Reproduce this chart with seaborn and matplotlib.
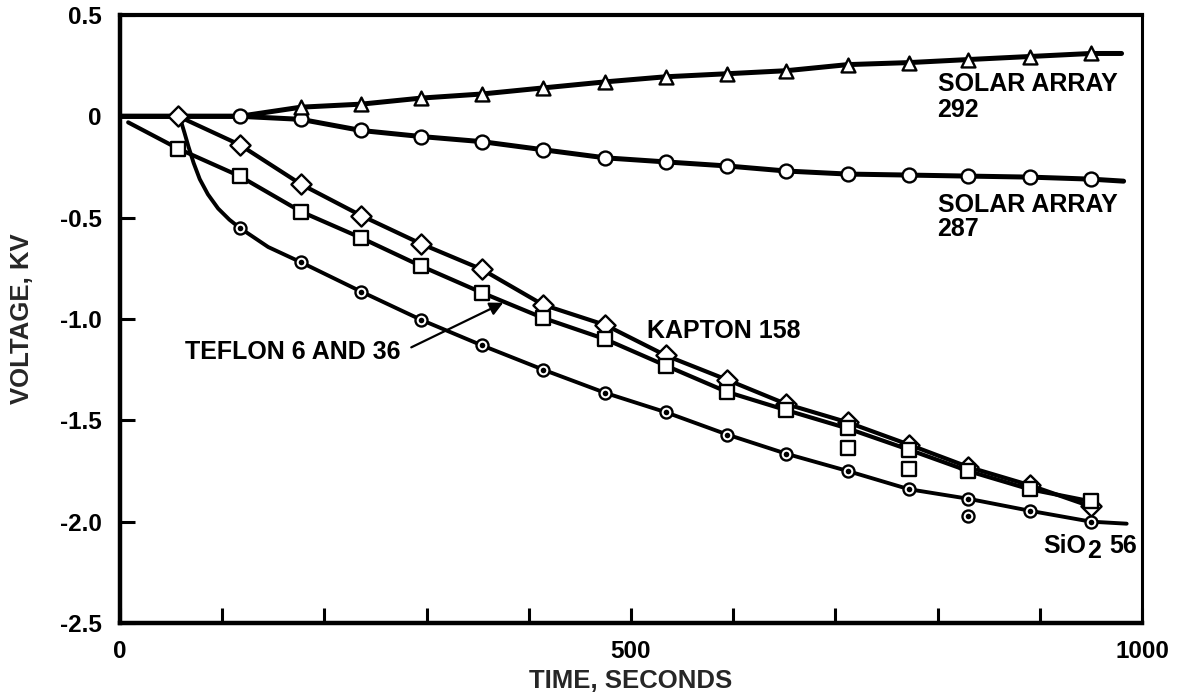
import matplotlib
matplotlib.use("Agg")
import matplotlib.pyplot as plt
import seaborn as sns

# Sample times (s) shared by the surface-charging series
time_s = [57, 117, 177, 236, 295, 354, 414, 475, 534, 594, 652, 712, 772, 830, 890, 950]

# KAPTON 158 (diamonds)
kapton_v = [0.0, -0.14, -0.335, -0.49, -0.63, -0.755, -0.93, -1.03, -1.18, -1.30,
            -1.42, -1.51, -1.62, -1.73, -1.82, -1.925]

# TEFLON 6 AND 36 (squares) plus the two readings that sit off the curve
teflon_v = [-0.16, -0.295, -0.47, -0.60, -0.74, -0.87, -0.995, -1.10, -1.23, -1.36,
            -1.45, -1.54, -1.645, -1.75, -1.84, -1.90]
teflon_extra_t = [712, 772]
teflon_extra_v = [-1.635, -1.74]
teflon_start_t = [8]
teflon_start_v = [-0.03]

# SiO2 56 (dotted circles)
sio2_t = time_s[1:]
sio2_v = [-0.55, -0.72, -0.865, -1.005, -1.13, -1.25, -1.365, -1.46, -1.57, -1.665,
          -1.75, -1.84, -1.887, -1.946, -2.0]
sio2_extra_t = [830]
sio2_extra_v = [-1.97]
# hand-drawn onset of the SiO2 curve, leaving the zero line after the first sample
sio2_onset_t = [0, 57, 60, 63, 67, 72, 78, 86, 96, 107]
sio2_onset_v = [0.0, 0.0, -0.03, -0.08, -0.15, -0.23, -0.31, -0.385, -0.455, -0.51]
sio2_bend_t = [145]
sio2_bend_v = [-0.645]
sio2_end_t = [985]
sio2_end_v = [-2.01]

# SOLAR ARRAY 292 (triangles)
solar292_t = time_s[2:]
solar292_v = [0.045, 0.06, 0.09, 0.11, 0.14, 0.17, 0.195, 0.21, 0.225, 0.255,
              0.265, 0.28, 0.295, 0.31]
solar292_start_t = [0, 117]
solar292_start_v = [0.0, 0.0]
solar292_end_t = [980]
solar292_end_v = [0.31]

# SOLAR ARRAY 287 (open circles)
solar287_t = time_s[1:]
solar287_v = [0.0, -0.015, -0.07, -0.10, -0.125, -0.165, -0.205, -0.225, -0.245,
              -0.27, -0.285, -0.29, -0.295, -0.30, -0.31]
solar287_start_t = [0]
solar287_start_v = [0.0]
solar287_end_t = [982]
solar287_end_v = [-0.32]

x_ticks = list(range(0, 1001, 100))
x_tick_labels = ["0", "", "", "", "", "500", "", "", "", "", "1000"]
y_ticks = [0.5, 0.0, -0.5, -1.0, -1.5, -2.0, -2.5]
y_tick_labels = ["0.5", "0", "-0.5", "-1.0", "-1.5", "-2.0", "-2.5"]

sns.set_theme(style="ticks")
plt.rcParams["font.family"] = ["Liberation Sans", "DejaVu Sans"]
plt.rcParams["font.weight"] = "bold"

fig = plt.figure(figsize=(11.79, 6.96), dpi=100)
ax = fig.add_axes([0.1018, 0.1049, 0.8668, 0.8736])

line_kw = dict(color="black", sort=False, estimator=None, legend=False)

# drawn curves through the readings
sns.lineplot(x=[0] + time_s, y=[0.0] + kapton_v, lw=3.0, ax=ax, zorder=2, **line_kw)
sns.lineplot(x=teflon_start_t + time_s, y=teflon_start_v + teflon_v, lw=3.0, ax=ax,
             zorder=2, **line_kw)
sio2_curve_t = sio2_onset_t + sio2_t[:1] + sio2_bend_t + sio2_t[1:] + sio2_end_t
sio2_curve_v = sio2_onset_v + sio2_v[:1] + sio2_bend_v + sio2_v[1:] + sio2_end_v
sns.lineplot(x=sio2_curve_t, y=sio2_curve_v, lw=2.8, ax=ax, zorder=2, **line_kw)
sns.lineplot(x=solar292_start_t + solar292_t + solar292_end_t,
             y=solar292_start_v + solar292_v + solar292_end_v, lw=3.6, ax=ax, zorder=2,
             **line_kw)
sns.lineplot(x=solar287_start_t + solar287_t + solar287_end_t,
             y=solar287_start_v + solar287_v + solar287_end_v, lw=3.6, ax=ax, zorder=2,
             **line_kw)

open_kw = dict(color="white", edgecolor="black", linewidth=1.7, legend=False, ax=ax)

sns.scatterplot(x=time_s, y=kapton_v, marker="D", s=105, zorder=3, **open_kw)
sns.scatterplot(x=time_s + teflon_extra_t, y=teflon_v + teflon_extra_v, marker="s",
                s=90, zorder=4, **open_kw)
sns.scatterplot(x=solar287_t, y=solar287_v, marker="o", s=100, zorder=5, **open_kw)
sns.scatterplot(x=solar292_t, y=solar292_v, marker="^", s=100, zorder=5, **open_kw)
sns.scatterplot(x=sio2_t + sio2_extra_t, y=sio2_v + sio2_extra_v, marker="o", s=75,
                zorder=5, **open_kw)
sns.scatterplot(x=sio2_t + sio2_extra_t, y=sio2_v + sio2_extra_v, marker="o", s=16,
                color="black", edgecolor="black", linewidth=0, zorder=6, legend=False,
                ax=ax)

ax.set_xlim(0, 1000)
ax.set_ylim(-2.5, 0.5)
ax.set_xticks(x_ticks, labels=x_tick_labels)
ax.set_yticks(y_ticks, labels=y_tick_labels)
ax.tick_params(axis="both", direction="in", length=11, width=2.2, colors="black",
               labelsize=17.5)
ax.tick_params(axis="x", pad=12)
ax.tick_params(axis="y", pad=13)
for lab in ax.get_xticklabels() + ax.get_yticklabels():
    lab.set_fontweight("bold")

for side, lw in (("left", 3.2), ("bottom", 3.2), ("top", 3.0), ("right", 2.2)):
    ax.spines[side].set_visible(True)
    ax.spines[side].set_linewidth(lw)
    ax.spines[side].set_color("black")

ax.set_xlabel("TIME, SECONDS", fontsize=18.5, fontweight="bold")
ax.set_ylabel("VOLTAGE, KV", fontsize=18.5, fontweight="bold")
ax.xaxis.set_label_coords(0.5, -0.075)
ax.yaxis.set_label_coords(-0.084, 0.5)

txt = dict(fontsize=18, fontweight="bold", ha="left", va="baseline", color="black")
ax.text(800, 0.123, "SOLAR ARRAY", **txt)
ax.text(800, -0.005, "292", **txt)
ax.text(800, -0.474, "SOLAR ARRAY", **txt)
ax.text(800, -0.59, "287", **txt)
ax.text(516, -1.094, "KAPTON 158", **txt)
ax.text(64, -1.197, "TEFLON 6 AND 36", **txt)
ax.text(903, -2.153, "SiO", **txt)
ax.text(946.5, -2.18, "2", **txt)
ax.text(968, -2.153, "56", **txt)

ax.annotate("", xy=(375, -0.92), xytext=(285, -1.14),
            arrowprops=dict(arrowstyle="-|>", lw=1.6, color="black",
                            mutation_scale=20, shrinkA=0, shrinkB=0))

fig.savefig("out.png", dpi=100, facecolor="white")
